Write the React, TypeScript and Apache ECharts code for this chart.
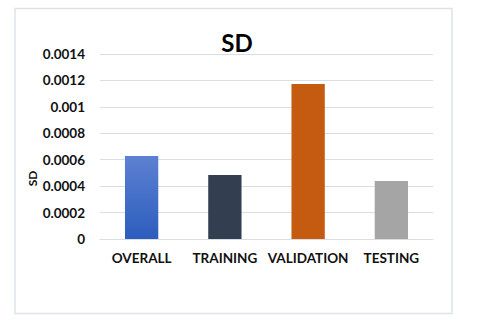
import React, { useEffect, useRef } from "react";
import * as echarts from "echarts";

const categories = ["OVERALL", "TRAINING", "VALIDATION", "TESTING"];
const sdValues = [0.000628, 0.000484, 0.001173, 0.000439];
const yTicks = { min: 0, max: 0.0014, interval: 0.0002 };

const FONT = "Lato, 'Open Sans', sans-serif";

export default function App() {
  const ref = useRef<HTMLDivElement>(null);
  useEffect(() => {
    if (!ref.current) return;
    const chart = echarts.init(ref.current, null, { renderer: "svg" });
    const barColors: any[] = [
      new echarts.graphic.LinearGradient(0, 0, 0, 1, [
        { offset: 0, color: "#5d81d2" },
        { offset: 1, color: "#2c5dbd" },
      ]),
      "#333f50",
      "#c55a11",
      "#a5a5a5",
    ];
    chart.setOption({
      animation: false,
      backgroundColor: "#ffffff",
      graphic: [
        {
          type: "rect",
          shape: { x: 15, y: 8.5, width: 437, height: 305 },
          style: { fill: "none", stroke: "#dce3ea", lineWidth: 1.5 },
          silent: true,
        },
      ],
      title: {
        text: "SD",
        left: 232,
        top: 25,
        textAlign: "center",
        textStyle: { fontFamily: FONT, fontWeight: "bold", fontSize: 24, color: "#000" },
      },
      grid: { left: 100, right: 50, top: 54, bottom: 84, containLabel: false },
      xAxis: {
        type: "category",
        data: categories,
        axisLine: { show: true, lineStyle: { color: "#d9dde5", width: 1 } },
        axisTick: { show: false },
        axisLabel: {
          fontFamily: FONT,
          fontWeight: "bold",
          fontSize: 13.5,
          color: "#111",
          margin: 12,
          interval: 0,
        },
      },
      yAxis: {
        type: "value",
        min: yTicks.min,
        max: yTicks.max,
        interval: yTicks.interval,
        name: "SD",
        nameLocation: "middle",
        nameGap: 62,
        nameMoveOverlap: false,
        nameRotate: 90,
        nameTextStyle: {
          fontFamily: FONT,
          fontWeight: "bold",
          fontSize: 12,
          color: "#111",
          padding: [0, 64, 0, 0],
        },
        axisLine: { show: false },
        axisTick: { show: false },
        splitLine: { lineStyle: { color: "#d9dde5", width: 1 } },
        axisLabel: {
          fontFamily: FONT,
          fontWeight: "bold",
          fontSize: 13.5,
          color: "#111",
          margin: 15,
          formatter: (v: number) => parseFloat(v.toFixed(4)).toString(),
        },
      },
      series: [
        {
          type: "bar",
          data: sdValues.map((v, i) => ({ value: v, itemStyle: { color: barColors[i] } })),
          barWidth: "40%",
        },
      ],
    });
    return () => chart.dispose();
  }, []);
  return (
    <div
      ref={ref}
      style={{ position: "absolute", left: 0, top: 0, width: 483, height: 323 }}
    />
  );
}
